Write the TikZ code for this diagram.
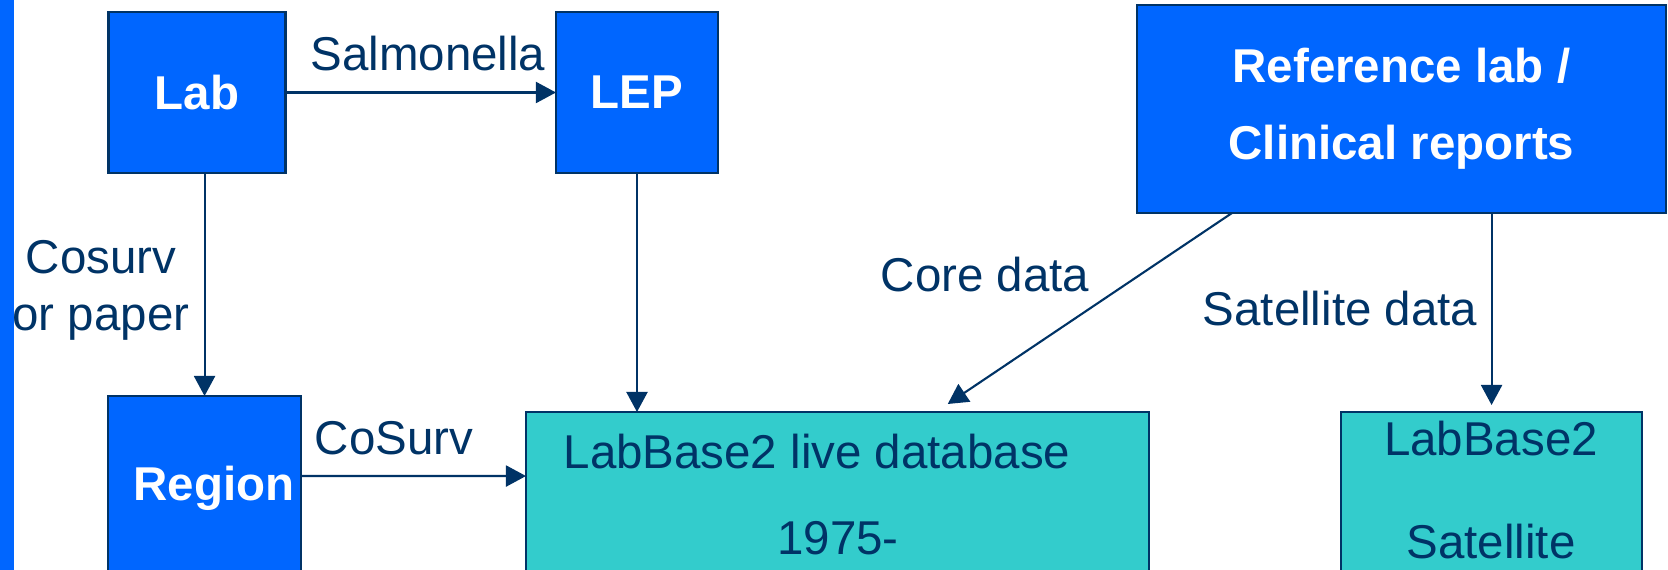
\documentclass[tikz,border=0pt]{standalone}
\usepackage{fontspec}
\setmainfont{Liberation Sans}
\usepackage{tikz}
\usetikzlibrary{
  arrows.meta
}
\definecolor{boxblue}{RGB}{0,102,255}
\definecolor{boxteal}{RGB}{51,204,204}
\definecolor{navy}{RGB}{0,51,102}

\begin{document}
\begin{tikzpicture}[
  x=0.01cm, y=-0.01cm,
  font=\fontsize{13.5}{16.2}\selectfont,
  every node/.style={inner sep=0pt, outer sep=0pt},
  labbox/.style={
    draw=navy, line width=0.6pt, fill=boxblue, text=white, align=center,
    font=\fontsize{13.5}{21.9}\selectfont\bfseries,
    },
  basebox/.style={
    draw=navy, line width=0.6pt, fill=boxteal,
    anchor=north west, minimum height=2cm,
    },
  flow/.style={draw=navy, line width=0.6pt, -{Triangle[length=0.2cm,width=0.21cm]}},
  flowlabel/.style={text=navy},
  ]
\useasboundingbox (0,0) rectangle (1668,570);
\clip (0,0) rectangle (1668,570);

% sources
\node[labbox, minimum width=1.77cm, minimum height=1.61cm] (lab) at (197,92.5) {Lab};
\node[labbox, minimum width=1.62cm, minimum height=1.61cm] (lep) at (637,92.5) {LEP};
\node[labbox, minimum width=5.29cm, minimum height=2.08cm] (ref) at (1401.5,109) {Reference lab /\\Clinical reports};
\node[labbox, anchor=north west, minimum width=1.93cm, minimum height=2.2cm] (region) at (108,396) {};
\node[labbox, draw=none, fill=none] (regionname) at (214,488) {Region};

% databases
\node[basebox, minimum width=6.23cm] (live) at (526,412) {};
\node[flowlabel] (livename) at (817,452) {LabBase2 live database};
\node[flowlabel] (liveyear) at (838,538) {1975-};
\node[basebox, minimum width=3.01cm] (sat) at (1341,412) {};
\node[flowlabel] (satname) at (1491,439) {LabBase2};
\node[flowlabel] (sattag) at (1491,542) {Satellite};

% flows
\draw[flow] (lab) -- (lep);
\draw[flow] (lab.south -| region.north) -- (region.north);
\draw[flow] (lep.south) -- (lep.south |- live.north);
\draw[flow] ([yshift=-0.8cm]region.north east) -- ([yshift=-0.64cm]live.north west);
\draw[flow] ([xshift=0.95cm]ref.south west) -- ([xshift=1.1cm,yshift=0.08cm]live.north);
\draw[flow] (ref.south -| sat.north) -- ([yshift=0.07cm]sat.north);

\node[flowlabel] (salm) at (428,54) {Salmonella};
\node[flowlabel, align=center] (paper) at (101,290) {Cosurv\\or paper};
\node[flowlabel] (cosurv) at (394,438) {CoSurv};
\node[flowlabel] (core) at (985,275) {Core data};
\node[flowlabel] (satdata) at (1340,309) {Satellite data};

% side bar
\fill[boxblue] (0,0) rectangle (14,570);
\end{tikzpicture}
\end{document}
